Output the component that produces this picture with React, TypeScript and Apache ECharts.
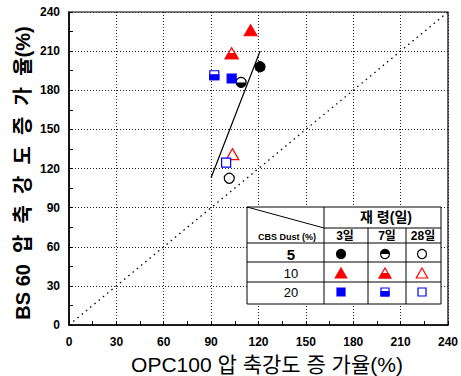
import React, { useEffect, useRef } from "react";
import * as echarts from "echarts";

const ages = ["3일", "7일", "28일"];
const dustLevels = ["5", "10", "20"];
// x: OPC100 increase rate (%), y: BS60 increase rate (%) for ages 3, 7, 28 days
const opc5 = [121, 109, 101.5];
const bs5 = [198, 186, 112.5];
const opc10 = [115, 103, 103.5];
const bs10 = [226, 208.5, 131];
const opc20 = [103, 92, 99.5];
const bs20 = [189, 191.5, 124.5];
const fitX = [90, 121];
const fitY = [113, 210];
const diagX = [0, 240];
const diagY = [0, 240];
const axisTicks = [0, 30, 60, 90, 120, 150, 180, 210, 240];

const FONT = "'Liberation Sans', Arial, 'Noto Sans CJK KR', sans-serif";
const KFONT = "'Liberation Sans', Arial, 'Noto Sans CJK KR', sans-serif";

type Shape = "circle" | "triangle" | "square";

function marker(shape: Shape, fill: number, cx: number, cy: number, color: string, size: number, halfTop = false): any[] {
  // fill: 0 = full, 1 = half, 2 = open
  const lw = 1.2;
  const out: any[] = [];
  if (shape === "circle") {
    const r = size / 2;
    if (fill === 0) {
      out.push({ type: "circle", shape: { cx, cy, r }, style: { fill: color, stroke: color, lineWidth: lw } });
    } else {
      out.push({ type: "circle", shape: { cx, cy, r }, style: { fill: "#fff", stroke: color, lineWidth: lw } });
      if (fill === 1) {
        out.push({
          type: "sector",
          shape: { cx, cy, r0: 0, r, startAngle: halfTop ? Math.PI : 0, endAngle: halfTop ? Math.PI * 2 : Math.PI },
          style: { fill: color },
        });
      }
    }
  } else if (shape === "triangle") {
    const w = size * 1.15;
    const h = size;
    const pts = [
      [cx, cy - h / 2],
      [cx + w / 2, cy + h / 2],
      [cx - w / 2, cy + h / 2],
    ];
    if (fill === 0) {
      out.push({ type: "polygon", shape: { points: pts }, style: { fill: color, stroke: color, lineWidth: lw } });
    } else {
      out.push({ type: "polygon", shape: { points: pts }, style: { fill: "#fff", stroke: color, lineWidth: lw } });
      if (fill === 1) {
        const ym = cy + h * 0.05;
        const f = (ym - (cy - h / 2)) / h;
        out.push({
          type: "polygon",
          shape: {
            points: [
              [cx - (w / 2) * f, ym],
              [cx + (w / 2) * f, ym],
              [cx + w / 2, cy + h / 2],
              [cx - w / 2, cy + h / 2],
            ],
          },
          style: { fill: color, stroke: color, lineWidth: lw },
        });
      }
    }
  } else {
    const s = size;
    if (fill === 0) {
      out.push({ type: "rect", shape: { x: cx - s / 2, y: cy - s / 2, width: s, height: s }, style: { fill: color, stroke: color, lineWidth: lw } });
    } else {
      out.push({ type: "rect", shape: { x: cx - s / 2, y: cy - s / 2, width: s, height: s }, style: { fill: "#fff", stroke: color, lineWidth: lw } });
      if (fill === 1) {
        out.push({ type: "rect", shape: { x: cx - s / 2, y: cy - s * 0.05, width: s, height: s * 0.55 }, style: { fill: color, stroke: color, lineWidth: lw } });
      }
    }
  }
  return out;
}

function markerSeries(name: string, xs: number[], ys: number[], shape: Shape, color: string, size: number) {
  return {
    name,
    type: "custom",
    coordinateSystem: "cartesian2d",
    encode: { x: 0, y: 1 },
    z: 5,
    data: xs.map((x, i) => [x, ys[i], i]),
    renderItem: (params: any, api: any) => {
      const p = api.coord([api.value(0), api.value(1)]);
      const idx = api.value(2);
      return { type: "group", children: marker(shape, idx, p[0], p[1], color, size, false) };
    },
  };
}

export default function App() {
  const ref = useRef<HTMLDivElement>(null);

  useEffect(() => {
    if (!ref.current) return;
    const chart = echarts.init(ref.current, undefined, { renderer: "svg" });

    const axisCommon = {
      min: axisTicks[0],
      max: axisTicks[axisTicks.length - 1],
      interval: 30,
      axisLine: { show: true, lineStyle: { color: "#000", width: 1.5 } },
      axisTick: { show: true, inside: true, length: 4, lineStyle: { color: "#000" } },
      minorTick: { show: true, splitNumber: 2, length: 4, lineStyle: { color: "#000" } },
      splitLine: { show: true, lineStyle: { color: "#222", type: [1, 2], width: 1 } },
      axisLabel: { color: "#000", fontSize: 12, fontWeight: "bold", fontFamily: FONT },
    };

    // Legend table
    const L = 247, R = 441, T = 207, B = 304;
    const c1 = 324, c2 = 368, c3 = 406;
    const hr1 = 228, hr2 = 243, hr3 = 262, hr4 = 282;
    const colX = [341, 385, 422];
    const rowY = [254, 273, 292];
    const ln = (x1: number, y1: number, x2: number, y2: number) => ({
      type: "line",
      shape: { x1, y1, x2, y2 },
      style: { stroke: "#000", lineWidth: 1 },
      z: 101,
    });
    const txt = (x: number, y: number, text: string, size: number, bold: boolean) => ({
      type: "text",
      x,
      y,
      z: 102,
      style: {
        text,
        fill: "#000",
        fontSize: size,
        fontWeight: bold ? "bold" : "normal",
        fontFamily: KFONT,
        align: "center",
        verticalAlign: "middle",
      },
    });
    const legendShapes: Shape[] = ["circle", "triangle", "square"];
    const legendColors = ["#000", "#ff0000", "#0000ff"];
    const legendSizes = [9, 10, 8];
    const legendMarkers: any[] = [];
    for (let r = 0; r < 3; r++) {
      for (let c = 0; c < 3; c++) {
        marker(legendShapes[r], c, colX[c], rowY[r], legendColors[r], legendSizes[r], true).forEach((m) =>
          legendMarkers.push({ ...m, z: 102 })
        );
      }
    }

    const graphic: any[] = [
      {
        type: "rect",
        shape: { x: L, y: T, width: R - L, height: B - T },
        style: { fill: "#fff", stroke: "#000", lineWidth: 1 },
        z: 100,
      },
      ln(c1, hr1, R, hr1),
      ln(L, hr2, R, hr2),
      ln(L, hr3, R, hr3),
      ln(L, hr4, R, hr4),
      ln(c1, T, c1, B),
      ln(c2, hr1, c2, B),
      ln(c3, hr1, c3, B),
      ln(L, T, c1, hr1),
      txt(386, 217, "재 령(일)", 14, true),
      txt(287, 237, "CBS Dust (%)", 9, true),
      txt(colX[0] + 4, 236, ages[0], 12, true),
      txt(colX[1] + 2, 236, ages[1], 12, true),
      txt(colX[2] + 1, 236, ages[2], 12, true),
      txt(291, rowY[0], dustLevels[0], 15, true),
      txt(291, rowY[1], dustLevels[1], 13, false),
      txt(291, rowY[2], dustLevels[2], 13, false),
      ...legendMarkers,
      {
        type: "text",
        x: 267,
        y: 364,
        style: {
          text: "OPC100 압 축강도 증 가율(%)",
          fill: "#000",
          fontSize: 21,
          fontFamily: KFONT,
          align: "center",
          verticalAlign: "middle",
        },
      },
      {
        type: "text",
        x: 23,
        y: 173,
        rotation: Math.PI / 2,
        style: {
          text: "BS 60  압  축  강  도  증  가  율(%)",
          fill: "#000",
          fontSize: 20,
          fontWeight: "bold",
          fontFamily: KFONT,
          align: "center",
          verticalAlign: "middle",
        },
      },
    ];

    chart.setOption({
      animation: false,
      backgroundColor: "#fff",
      grid: { left: 69, right: 9, top: 12, bottom: 51, show: true, borderColor: "#000", borderWidth: 1.2, backgroundColor: "transparent" },
      xAxis: { type: "value", ...axisCommon, axisLabel: { ...axisCommon.axisLabel, margin: 11 } },
      yAxis: { type: "value", ...axisCommon, axisLabel: { ...axisCommon.axisLabel, margin: 9 } },
      series: [
        {
          type: "line",
          data: diagX.map((x, i) => [x, diagY[i]]),
          symbol: "none",
          lineStyle: { color: "#000", width: 1.3, type: [1.5, 4] },
          z: 3,
        },
        {
          type: "line",
          data: fitX.map((x, i) => [x, fitY[i]]),
          symbol: "none",
          lineStyle: { color: "#000", width: 1.3 },
          z: 3,
        },
        markerSeries("5", opc5, bs5, "circle", "#000", 10),
        markerSeries("10", opc10, bs10, "triangle", "#ff0000", 11),
        markerSeries("20", opc20, bs20, "square", "#0000ff", 9),
      ],
      graphic,
    });

    return () => chart.dispose();
  }, []);

  return <div ref={ref} style={{ position: "fixed", left: 0, top: 0, width: 461, height: 376 }} />;
}
